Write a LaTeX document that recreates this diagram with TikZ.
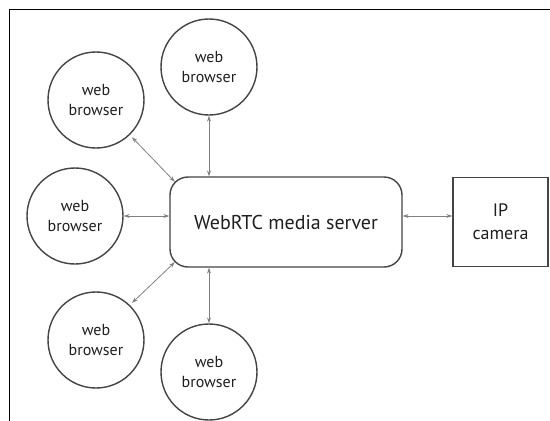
\documentclass[tikz,border=0pt]{standalone}
\usepackage{fontspec}
\setmainfont{PT Sans}
\usetikzlibrary{arrows.meta,calc}
\definecolor{lineC}{HTML}{444444}
\definecolor{arrC}{HTML}{808080}
\begin{document}
\begin{tikzpicture}[x=1pt,y=1pt,
  browser/.style={circle,draw=lineC,line width=1.4pt,minimum size=96pt,inner sep=0pt,align=center,font=\fontsize{16}{20}\selectfont,text=black!88},
  server/.style={rounded corners=18pt,draw=lineC,line width=1.4pt,minimum width=232pt,minimum height=90pt,font=\fontsize{20}{22}\selectfont,text=black!88},
  camera/.style={draw=lineC,line width=1.4pt,minimum width=95pt,minimum height=89pt,align=center,font=\fontsize{18}{23}\selectfont,text=black!88},
  link/.style={draw=arrC,line width=0.8pt,{Stealth[length=6pt,width=4pt]}-{Stealth[length=6pt,width=4pt]}}]
\useasboundingbox (0,0) rectangle (550,-421);
\draw[black,line width=0.9pt] (550,-9) -- (9,-9) -- (9,-421);
\node[server] (srv) at (286,-222) {WebRTC media server};
\node[camera] (cam) at (500.5,-222) {IP\\camera};
\node[browser] (b1) at (209,-67) {web\\browser};
\node[browser] (b2) at (96,-100) {web\\browser};
\node[browser] (b3) at (75,-216) {web\\browser};
\node[browser] (b4) at (96,-340) {web\\browser};
\node[browser] (b5) at (209,-372) {web\\browser};
\coordinate (s3) at (srv.west |- b3.east);
\coordinate (s1) at (srv.north -| b1.south);
\coordinate (s5) at (srv.south -| b5.north);
\coordinate (snw) at ($(srv.north west)+(5.5,-5.5)$);
\coordinate (ssw) at ($(srv.south west)+(5.5,5.5)$);
\path[link] (b3.east) -- (s3);
\path[link] (b1.south) -- (s1);
\path[link] (b5.north) -- (s5);
\path[link,shorten <=3pt] (b2.-46) -- (snw);
\path[link,shorten <=3pt] (b4.46) -- (ssw);
\path[link] (srv.east |- b3.east) -- (cam.west |- b3.east);
\end{tikzpicture}
\end{document}
